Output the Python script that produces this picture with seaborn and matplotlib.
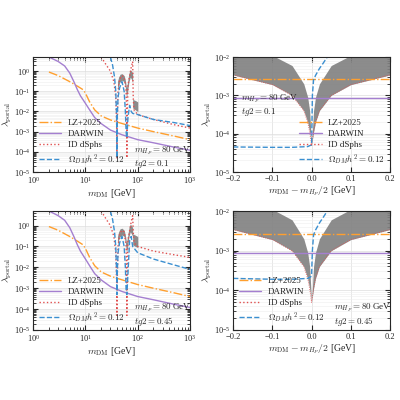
import numpy as np
import matplotlib
matplotlib.use("Agg")
import matplotlib.pyplot as plt
import matplotlib.ticker as mt
import seaborn as sns

sns.set_style("ticks")
plt.rcParams['font.family'] = ['Liberation Serif', 'DejaVu Serif']
plt.rcParams['mathtext.fontset'] = 'cm'
plt.rcParams['font.size'] = 7

c_lz = "#ff9f2e"; c_dw = "#a47fd0"; c_id = "#e05050"; c_rel = "#3b8fd0"

# ---- left panels (mass scan) ----
lz_x = [2, 3, 5, 7, 9, 10, 12, 15, 20, 30, 40, 60, 100, 200, 500, 1000]
lz_y = [0.9, 0.6, 0.3, 0.18, 0.12, 0.08, 0.03, 0.012, 0.006, 0.0038, 0.003, 0.0022, 0.0015, 0.001, 0.0006, 0.0004]
dw_x = [2, 3, 4, 5, 6, 7, 8, 10, 12, 15, 20, 30, 50, 100, 200, 500, 1000]
dw_y = [5, 3, 1.8, 0.8, 0.3, 0.12, 0.06, 0.025, 0.012, 0.005, 0.0025, 0.0012, 0.0007, 0.0004, 0.00028, 0.00017, 0.00012]

id_x_top = [20, 25, 30, 35, 38, 39.5, 40, 40.5, 42, 45, 50, 55, 60, 61.5, 62, 62.5, 65, 75, 80, 82, 85, 100, 200, 500, 1000]
id_y_top = [5, 2, 1, 0.3, 0.05, 0.002, 5e-5, 0.002, 0.1, 0.4, 0.6, 0.5, 0.1, 0.002, 5e-5, 0.002, 0.2, 1.5, 3, 0.05, 0.012, 0.007, 0.004, 0.0022, 0.0015]
rel_x_top = [30, 33, 36, 38, 39.5, 40, 40.5, 42, 45, 50, 55, 58, 60, 61, 62, 65, 70, 75, 80, 100, 200, 500, 1000]
rel_y_top = [5, 2, 0.5, 0.1, 0.005, 5e-5, 0.005, 0.05, 0.15, 0.3, 0.1, 0.01, 0.001, 0.0006, 0.0005, 0.005, 0.02, 0.01, 0.008, 0.007, 0.004, 0.0028, 0.002]
id_y_bot = [5, 2, 1, 0.3, 0.05, 0.002, 5e-5, 0.002, 0.1, 0.4, 0.6, 0.5, 0.1, 0.002, 5e-5, 0.002, 0.2, 1.5, 3, 0.5, 0.15, 0.1, 0.06, 0.04, 0.03]
rel_y_bot = [5, 2, 0.5, 0.1, 0.005, 0.0005, 0.005, 0.05, 0.15, 0.3, 0.1, 0.01, 0.0008, 0.0006, 0.0005, 0.005, 0.2, 0.3, 0.1, 0.05, 0.025, 0.013, 0.008]

band_x = [41, 43, 46, 50, 55, 58, 61, 64, 68, 72, 76, 80, 80.01, 90, 100]
band_lo_top = [0.1, 0.2, 0.3, 0.35, 0.3, 0.15, 0.05, 0.1, 0.3, 0.5, 0.4, 0.25, 0.015, 0.012, 0.01]
band_hi_top = [0.3, 0.5, 0.7, 0.75, 0.6, 0.35, 0.15, 0.3, 0.8, 1.2, 1.0, 0.8, 0.04, 0.035, 0.03]
band_lo_bot = [0.1, 0.2, 0.3, 0.35, 0.3, 0.15, 0.05, 0.1, 0.3, 0.5, 0.4, 0.3, 0.12, 0.1, 0.09]
band_hi_bot = [0.3, 0.5, 0.7, 0.75, 0.6, 0.35, 0.15, 0.3, 0.8, 1.2, 1.0, 0.8, 0.4, 0.35, 0.3]

# ---- right panels (near resonance) ----
dx = [-0.2, -0.1, -0.05, -0.02, -0.01, -0.005, 0.0, 0.005, 0.01, 0.02, 0.05, 0.1, 0.2]
rband_lo = [3.4e-3, 1.9e-3, 1.0e-3, 4e-4, 2e-4, 1.1e-4, 5e-5, 1.1e-4, 2e-4, 4e-4, 1.0e-3, 1.9e-3, 3.4e-3]
rband_hi = [1.5e-2, 1.1e-2, 6e-3, 2e-3, 9e-4, 4e-4, 5e-5, 4e-4, 9e-4, 2e-3, 6e-3, 1.1e-2, 1.5e-2]
rel_dx = [-0.2, -0.1, -0.05, -0.01, -0.002, 0.0, 0.002, 0.005, 0.01, 0.02, 0.03, 0.04]
rel_r_top = [4.5e-5, 4.4e-5, 4.4e-5, 4.6e-5, 5e-5, 5e-5, 1e-3, 2.5e-3, 3.3e-3, 5e-3, 7e-3, 1e-2]
rel_r_bot = [2e-4, 1.9e-4, 1.9e-4, 2e-4, 2.2e-4, 2.5e-4, 1e-3, 2.5e-3, 3.3e-3, 5e-3, 7e-3, 1e-2]
lz_r = 2.6e-3
dw_r = 8.5e-4

fig = plt.figure(figsize=(4, 4), dpi=100)
axes = [
    fig.add_axes([0.083, 0.57, 0.392, 0.2875]),
    fig.add_axes([0.583, 0.57, 0.392, 0.2875]),
    fig.add_axes([0.083, 0.175, 0.392, 0.2975]),
    fig.add_axes([0.583, 0.175, 0.392, 0.2975]),
]

def style(ax):
    ax.set_yscale('log')
    ax.yaxis.set_major_locator(mt.LogLocator(base=10, numticks=12))
    ax.yaxis.set_minor_locator(mt.LogLocator(base=10, subs=np.arange(2, 10), numticks=12))
    ax.yaxis.set_minor_formatter(mt.NullFormatter())
    ax.tick_params(which='both', direction='in', top=True, right=True, labelsize=6, pad=2)
    ax.grid(True, which='major', color='#dddddd', lw=0.5)
    ax.grid(True, which='minor', axis='y', color='#eeeeee', lw=0.4)
    ax.set_ylabel(r'$\lambda_{\rm portal}$', fontsize=7, labelpad=0)

LEG = dict(frameon=False, fontsize=6.5, handlelength=2.5, borderaxespad=0.2, labelspacing=0.3, handletextpad=0.7)

def left(ax, idy, rely, blo, bhi, tg):
    ax.set_xscale('log')
    ax.fill_between(band_x, blo, bhi, color='gray', alpha=0.9, lw=0)
    sns.lineplot(x=lz_x, y=lz_y, ax=ax, color=c_lz, ls='-.', lw=1, label='LZ+2025')
    sns.lineplot(x=dw_x, y=dw_y, ax=ax, color=c_dw, ls='-', lw=1, label='DARWIN')
    sns.lineplot(x=id_x_top, y=idy, ax=ax, color=c_id, ls=':', lw=1, label='ID dSphs', sort=False)
    sns.lineplot(x=rel_x_top, y=rely, ax=ax, color=c_rel, ls='--', lw=1, label=r'$\Omega_{DM}h^2=0.12$', sort=False)
    ax.set_xlim(1, 1000); ax.set_ylim(1e-5, 5)
    ax.set_xlabel(r'$m_{\rm DM}$ [GeV]', fontsize=7, labelpad=1)
    ax.legend(loc='lower left', **LEG)
    style(ax)
    ax.text(0.64, 0.05, r'$m_{H_P}=80$ GeV' + '\n' + r'$tg2=%s$' % tg, transform=ax.transAxes, fontsize=6.5, linespacing=1.15)

def right(ax, relr, legloc):
    ax.fill_between(dx, rband_lo, rband_hi, color='gray', alpha=0.9, lw=0)
    sns.lineplot(x=dx, y=rband_lo, ax=ax, color=c_id, ls=':', lw=0.6)
    sns.lineplot(x=[-0.2, 0.2], y=[lz_r, lz_r], ax=ax, color=c_lz, ls='-.', lw=1, label='LZ+2025')
    sns.lineplot(x=[-0.2, 0.2], y=[dw_r, dw_r], ax=ax, color=c_dw, ls='-', lw=1, label='DARWIN')
    ax.plot([], [], color=c_id, ls=':', lw=1, label='ID dSphs')
    sns.lineplot(x=rel_dx, y=relr, ax=ax, color=c_rel, ls='--', lw=1, label=r'$\Omega_{DM}h^2=0.12$')
    ax.set_xlim(-0.2, 0.2); ax.set_ylim(1e-5, 1e-2)
    ax.set_xticks([-0.2, -0.1, 0.0, 0.1, 0.2])
    ax.set_xlabel(r'$m_{\rm DM}-m_{H_P}/2$ [GeV]', fontsize=7, labelpad=1)
    ax.legend(loc=legloc, **LEG)
    style(ax)
    return ax

left(axes[0], id_y_top, rel_y_top, band_lo_top, band_hi_top, '0.1')
left(axes[2], id_y_bot, rel_y_bot, band_lo_bot, band_hi_bot, '0.45')
a = right(axes[1], rel_r_top, 'lower right')
a.text(0.05, 0.5, r'$m_{H_P}=80$ GeV' + '\n' + r'$tg2=0.1$', transform=a.transAxes, fontsize=6.5, linespacing=1.15)
a = right(axes[3], rel_r_bot, 'lower left')
a.text(0.64, 0.05, r'$m_{H_P}=80$ GeV' + '\n' + r'$tg2=0.45$', transform=a.transAxes, fontsize=6.5, linespacing=1.15)

fig.savefig('out.png', dpi=100)
